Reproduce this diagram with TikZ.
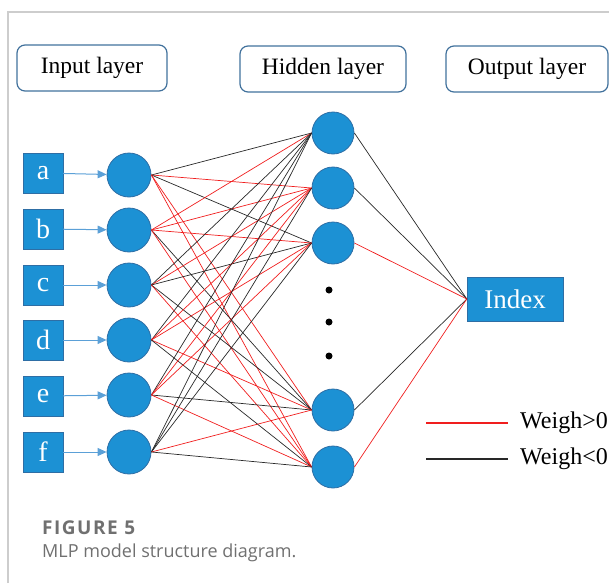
\documentclass[tikz,border=0pt]{standalone}
\usepackage{fontspec}
\setmainfont{Liberation Serif}
\newfontfamily\capfont{Open Sans}
\usepackage{tikz}
\usetikzlibrary{arrows.meta,positioning}
\definecolor{nodeblue}{RGB}{28,145,212}
\definecolor{nodeedge}{RGB}{46,110,165}
\definecolor{arrowblue}{RGB}{91,160,215}
\definecolor{boxedge}{RGB}{65,113,156}
\definecolor{framegray}{RGB}{205,205,205}
\definecolor{capgray}{RGB}{112,112,112}
\definecolor{posred}{RGB}{240,30,30}
\definecolor{neggray}{RGB}{40,40,40}

\tikzset{
  layerbox/.style={draw=boxedge, line width=1.2pt, rounded corners=8pt, minimum height=46pt, font=\fontsize{23.5}{26}\selectfont},
  inbox/.style={rectangle, draw=nodeedge, fill=nodeblue, minimum size=40pt, inner sep=0pt, text=white, font=\fontsize{28}{30}\selectfont},
  neuron/.style={circle, draw=nodeedge, fill=nodeblue, line width=0.8pt, inner sep=0pt},
  wpos/.style={posred, line width=0.7pt},
  wneg/.style={neggray, line width=0.7pt},
  feed/.style={arrowblue, line width=1pt, -{Triangle[length=9pt,width=8pt]}},
}

\begin{document}
\begin{tikzpicture}[x=1pt, y=-1pt]
         \useasboundingbox (0,0) rectangle (609,583);
         % Frame
         \draw[framegray, line width=1.5pt] (8,583) -- (8,12) -- (609,12);

         % Define nodes
         \node[layerbox, minimum width=150pt] (inlayer) at (92,68) {Input layer};
         \node[layerbox, minimum width=166pt] (hidlayer) at (323,69) {Hidden layer};
         \node[layerbox, minimum width=162pt] (outlayer) at (527,69) {Output layer};

         \node[inbox] (a) at (43,173) {a};
         \node[inbox] (b) at (43,229) {b};
         \node[inbox] (c) at (43,285) {c};
         \node[inbox] (d) at (43,340) {d};
         \node[inbox] (e) at (43,396) {e};
         \node[inbox] (f) at (43,452) {f};

         \node[neuron, minimum size=44pt] (i1) at (129,175) {};
         \node[neuron, minimum size=44pt] (i2) at (129,230) {};
         \node[neuron, minimum size=44pt] (i3) at (129,285) {};
         \node[neuron, minimum size=44pt] (i4) at (129,340) {};
         \node[neuron, minimum size=44pt] (i5) at (129,395) {};
         \node[neuron, minimum size=44pt] (i6) at (129,452) {};

         \node[neuron, minimum size=42pt] (h1) at (333,133) {};
         \node[neuron, minimum size=42pt] (h2) at (333,188) {};
         \node[neuron, minimum size=42pt] (h3) at (333,243) {};
         \node[neuron, minimum size=42pt] (h4) at (333,410) {};
         \node[neuron, minimum size=42pt] (h5) at (333,467) {};

         \node[circle, fill=black, inner sep=0pt, minimum size=7pt] (dot1) at (329,290) {};
         \node[circle, fill=black, inner sep=0pt, minimum size=7pt] (dot2) at (329,322) {};
         \node[circle, fill=black, inner sep=0pt, minimum size=7pt] (dot3) at (329,356) {};

         \node[rectangle, draw=nodeedge, fill=nodeblue, minimum width=96pt, minimum height=44pt, text=white, font=\fontsize{27}{30}\selectfont] (index) at (515,299) {Index};

         % Draw edges
         \draw[feed] (a) -- (i1);
         \draw[feed] (b) -- (i2);
         \draw[feed] (c) -- (i3);
         \draw[feed] (d) -- (i4);
         \draw[feed] (e) -- (i5);
         \draw[feed] (f) -- (i6);

         \draw[wneg] (i1.east) -- (h1.west);
         \draw[wpos] (i1.east) -- (h2.west);
         \draw[wneg] (i1.east) -- (h3.west);
         \draw[wpos] (i1.east) -- (h4.west);
         \draw[wpos] (i1.east) -- (h5.west);

         \draw[wpos] (i2.east) -- (h1.west);
         \draw[wpos] (i2.east) -- (h2.west);
         \draw[wpos] (i2.east) -- (h3.west);
         \draw[wneg] (i2.east) -- (h4.west);
         \draw[wpos] (i2.east) -- (h5.west);

         \draw[wneg] (i3.east) -- (h1.west);
         \draw[wpos] (i3.east) -- (h2.west);
         \draw[wneg] (i3.east) -- (h3.west);
         \draw[wneg] (i3.east) -- (h4.west);
         \draw[wpos] (i3.east) -- (h5.west);

         \draw[wneg] (i4.east) -- (h1.west);
         \draw[wpos] (i4.east) -- (h2.west);
         \draw[wpos] (i4.east) -- (h3.west);
         \draw[wpos] (i4.east) -- (h4.west);
         \draw[wneg] (i4.east) -- (h5.west);

         \draw[wneg] (i5.east) -- (h1.west);
         \draw[wpos] (i5.east) -- (h2.west);
         \draw[wpos] (i5.east) -- (h3.west);
         \draw[wneg] (i5.east) -- (h4.west);
         \draw[wpos] (i5.east) -- (h5.west);

         \draw[wneg] (i6.east) -- (h1.west);
         \draw[wneg] (i6.east) -- (h2.west);
         \draw[wneg] (i6.east) -- (h3.west);
         \draw[wpos] (i6.east) -- (h4.west);
         \draw[wneg] (i6.east) -- (h5.west);

         \draw[wneg] (h1.east) -- (index.west);
         \draw[wneg] (h2.east) -- (index.west);
         \draw[wpos] (h3.east) -- (index.west);
         \draw[wneg] (h4.east) -- (index.west);
         \draw[wpos] (h5.east) -- (index.west);

         % Legend
         \coordinate (lgA) at (426,423);
         \coordinate (lgB) at (508,423);
         \coordinate (lgC) at (426,459);
         \coordinate (lgD) at (508,459);
         \draw[wpos, line width=1.2pt] (lgA) -- (lgB);
         \draw[wneg, line width=1.2pt] (lgC) -- (lgD);
         \node[anchor=west, inner sep=0pt, font=\fontsize{24}{26}\selectfont] (lgpos) at (520,423) {Weigh>0};
         \node[anchor=west, inner sep=0pt, font=\fontsize{24}{26}\selectfont] (lgneg) at (520,459) {Weigh<0};

         % Caption
         \node[anchor=base west, inner sep=0pt, text=capgray, font=\capfont\bfseries\fontsize{19}{22}\selectfont\addfontfeatures{LetterSpace=8}] (figno) at (42,534) {FIGURE 5};
         \node[anchor=base west, inner sep=0pt, text=capgray, font=\capfont\fontsize{18}{20}\selectfont] (figcap) at (42,557) {MLP model structure diagram.};
      \end{tikzpicture}
\end{document}
